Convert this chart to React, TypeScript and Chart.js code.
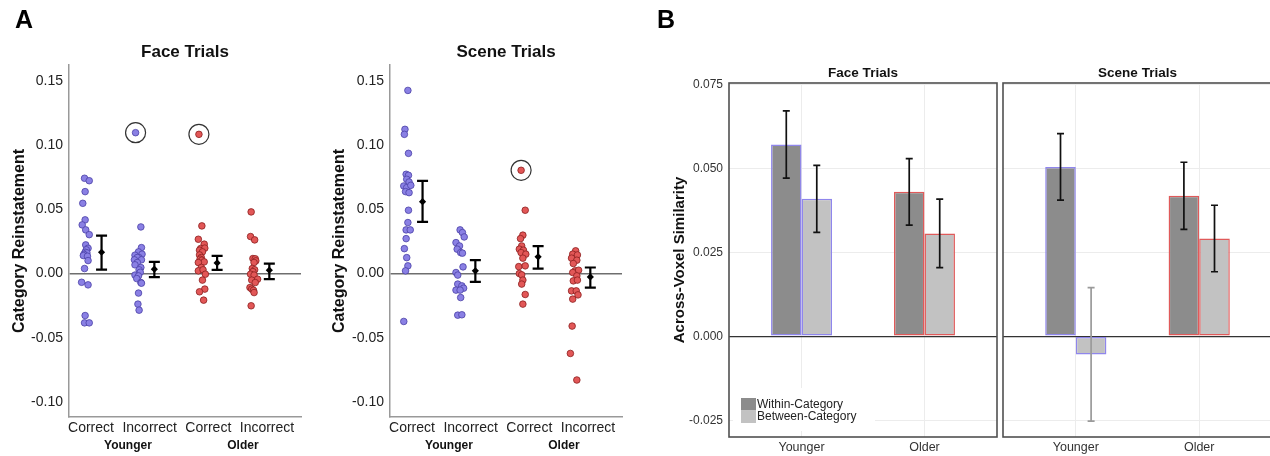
import { useEffect, useRef } from 'react';
import { Chart, registerables } from 'chart.js';

Chart.register(...registerables);

const FONT = "'Liberation Sans', Arial, Helvetica, sans-serif";

type Pt = [number, number];

// ---------- Panel A (category reinstatement, individual subjects) ----------
const aTickValues = [-0.1, -0.05, 0, 0.05, 0.1, 0.15];
const aConditionLabels = ['Correct', 'Incorrect', 'Correct', 'Incorrect'];
const aAgeLabels = ['Younger', 'Older'];
const aAgeLabelPos = [0.63, 2.59];
const aSummaryX = [0.18, 1.08, 2.15, 3.04];

const faceYoungerCorrect: Pt[] = [
  [-0.11, 0.0742], [-0.03, 0.0723], [-0.1, 0.0638], [-0.14, 0.0547], [-0.1, 0.0418], [-0.15, 0.0379],
  [-0.09, 0.034], [-0.03, 0.0303], [-0.09, 0.0223], [-0.05, 0.0197], [-0.08, 0.0185], [-0.1, 0.0166],
  [-0.07, 0.0161], [-0.12, 0.015], [-0.13, 0.014], [-0.06, 0.0135], [-0.05, 0.0101], [-0.11, 0.0039],
  [-0.16, -0.0068], [-0.05, -0.0088], [-0.1, -0.0327], [-0.11, -0.0384], [-0.03, -0.0384],
];
const faceYoungerIncorrect: Pt[] = [
  [0.76, 0.1097], [0.85, 0.0363], [0.86, 0.0202], [0.81, 0.0169], [0.87, 0.0151], [0.75, 0.0143],
  [0.82, 0.0124], [0.79, 0.0125], [0.74, 0.0107], [0.86, 0.0107], [0.79, 0.0086], [0.75, 0.0068],
  [0.85, 0.0047], [0.82, 0.0029], [0.84, 0.001], [0.75, -0.0012], [0.81, -0.0018], [0.78, -0.0039],
  [0.85, -0.007], [0.86, -0.0075], [0.81, -0.0152], [0.8, -0.0238], [0.82, -0.0285],
];
const faceOlderCorrect: Pt[] = [
  [1.84, 0.1084], [1.89, 0.0371], [1.83, 0.0267], [1.93, 0.0229], [1.87, 0.0195], [1.94, 0.0198],
  [1.85, 0.0182], [1.9, 0.0169], [1.85, 0.0145], [1.88, 0.0125], [1.86, 0.0112], [1.89, 0.0104],
  [1.93, 0.0091], [1.83, 0.0086], [1.88, 0.0047], [1.83, 0.0021], [1.91, 0.0029], [1.95, -0.0005],
  [1.9, -0.0051], [1.94, -0.0121], [1.85, -0.0142], [1.92, -0.0207],
];
const faceOlderIncorrect: Pt[] = [
  [2.73, 0.048], [2.72, 0.0288], [2.79, 0.0262], [2.76, 0.0117], [2.8, 0.0115], [2.81, 0.0099],
  [2.78, 0.0086], [2.75, 0.0039], [2.79, 0.0029], [2.76, 0.0015], [2.72, -0.0005], [2.78, -0.0012],
  [2.84, -0.0044], [2.74, -0.0051], [2.8, -0.007], [2.71, -0.0109], [2.74, -0.0121], [2.77, -0.013],
  [2.78, -0.0148], [2.73, -0.0251],
];
const faceOutliers: Pt[] = [[0.76, 0.1097], [1.84, 0.1084]];
const faceMeans = [0.0166, 0.0034, 0.0083, 0.0026];
const faceErrLow = [0.0031, -0.0028, 0.0029, -0.0044];
const faceErrHigh = [0.0296, 0.0091, 0.0138, 0.0078];

const sceneYoungerCorrect: Pt[] = [
  [-0.07, 0.1426], [-0.12, 0.1123], [-0.13, 0.1084], [-0.06, 0.0936], [-0.1, 0.0773], [-0.06, 0.0765],
  [-0.09, 0.0734], [-0.05, 0.0713], [-0.14, 0.0682], [-0.09, 0.0669], [-0.02, 0.0687], [-0.11, 0.0638],
  [-0.05, 0.063], [-0.06, 0.0493], [-0.07, 0.0397], [-0.1, 0.034], [-0.03, 0.034], [-0.1, 0.0272],
  [-0.13, 0.0194], [-0.09, 0.0124], [-0.07, 0.006], [-0.11, 0.0021], [-0.14, -0.0373],
];
const sceneYoungerIncorrect: Pt[] = [
  [0.82, 0.034], [0.86, 0.0319], [0.89, 0.0285], [0.75, 0.0241], [0.81, 0.0215], [0.77, 0.019],
  [0.83, 0.0163], [0.86, 0.0159], [0.87, 0.0052], [0.75, 0.0008], [0.78, -0.0012], [0.78, -0.0082],
  [0.85, -0.0096], [0.88, -0.0114], [0.75, -0.0129], [0.82, -0.0129], [0.83, -0.0187], [0.78, -0.0324],
  [0.85, -0.0321],
];
const sceneOlderCorrect: Pt[] = [
  [1.86, 0.0804], [1.93, 0.0493], [1.89, 0.0299], [1.85, 0.0272], [1.87, 0.0215], [1.83, 0.019],
  [1.9, 0.0182], [1.86, 0.0163], [1.94, 0.0151], [1.89, 0.012], [1.82, 0.0054], [1.93, 0.006],
  [1.83, 0], [1.87, -0.001], [1.89, -0.0051], [1.87, -0.0082], [1.93, -0.0163], [1.89, -0.0238],
];
const sceneOlderIncorrect: Pt[] = [
  [2.79, 0.0177], [2.74, 0.0151], [2.82, 0.0145], [2.72, 0.012], [2.81, 0.0104], [2.75, 0.0078],
  [2.78, 0.0021], [2.84, 0.0026], [2.74, 0.0008], [2.81, -0.0018], [2.75, -0.0057], [2.82, -0.0051],
  [2.72, -0.0135], [2.8, -0.0135], [2.83, -0.0166], [2.74, -0.0199], [2.73, -0.0409], [2.7, -0.0622],
  [2.81, -0.0829],
];
const sceneOutliers: Pt[] = [[1.86, 0.0804]];
const sceneMeans = [0.056, 0.0021, 0.013, -0.0026];
const sceneErrLow = [0.0402, -0.0065, 0.0039, -0.0109];
const sceneErrHigh = [0.0721, 0.0104, 0.0213, 0.0047];

// ---------- Panel B (across-voxel similarity) ----------
const bGroups = ['Younger', 'Older'];
const bTicks = [-0.025, 0, 0.025, 0.05, 0.075];
const bSeriesLabels = ['Within-Category', 'Between-Category'];
const faceWithin = [0.0571, 0.043];
const faceWithinErr = [0.01, 0.0099];
const faceBetween = [0.0409, 0.0306];
const faceBetweenErr = [0.01, 0.0102];
const sceneWithin = [0.0504, 0.0418];
const sceneWithinErr = [0.0099, 0.01];
const sceneBetween = [-0.0054, 0.0291];
const sceneBetweenErr = [0.0199, 0.0099];

const BLUE_FILL = '#8a80e4';
const BLUE_EDGE = '#4a40a6';
const RED_FILL = '#e25757';
const RED_EDGE = '#8c1f1f';
const GROUP_BORDERS = ['#8f86ec', '#e05a5a'];

const toXY = (pts: Pt[]) => pts.map(([x, y]) => ({ x, y }));

function buildPanelA(opts: {
  title: string;
  groups: Pt[][];
  outliers: Pt[];
  means: number[];
  lo: number[];
  hi: number[];
  yWidth: number;
  rightPad: number;
}): any {
  const fills = [BLUE_FILL, BLUE_FILL, RED_FILL, RED_FILL];
  const edges = [BLUE_EDGE, BLUE_EDGE, RED_EDGE, RED_EDGE];
  const datasets: any[] = opts.groups.map((g, i) => ({
    data: toXY(g),
    backgroundColor: fills[i],
    borderColor: edges[i],
    borderWidth: 0.8,
    pointRadius: 3.3,
    order: 3,
  }));
  datasets.push({
    data: opts.means.map((m, i) => ({ x: aSummaryX[i], y: m })),
    pointStyle: 'rectRot',
    pointRadius: 3.6,
    backgroundColor: '#000',
    borderColor: '#000',
    borderWidth: 0,
    order: 1,
  });
  datasets.push({
    data: toXY(opts.outliers),
    pointRadius: 10,
    backgroundColor: 'rgba(0,0,0,0)',
    borderColor: '#333',
    borderWidth: 1.2,
    order: 2,
  });

  const errPlugin = {
    id: 'errA',
    afterDatasetsDraw(chart: any) {
      const { ctx, scales } = chart;
      ctx.save();
      ctx.strokeStyle = '#000';
      ctx.lineWidth = 2.2;
      opts.means.forEach((_m, i) => {
        const px = scales.x.getPixelForValue(aSummaryX[i]);
        const yt = scales.y.getPixelForValue(opts.hi[i]);
        const yb = scales.y.getPixelForValue(opts.lo[i]);
        ctx.beginPath();
        ctx.moveTo(px, yt);
        ctx.lineTo(px, yb);
        ctx.moveTo(px - 5.5, yt);
        ctx.lineTo(px + 5.5, yt);
        ctx.moveTo(px - 5.5, yb);
        ctx.lineTo(px + 5.5, yb);
        ctx.stroke();
      });
      ctx.restore();
    },
  };
  const textPlugin = {
    id: 'textA',
    afterDraw(chart: any) {
      const { ctx, chartArea, scales } = chart;
      ctx.save();
      ctx.fillStyle = '#111';
      ctx.textAlign = 'center';
      ctx.textBaseline = 'middle';
      ctx.font = `bold 17px ${FONT}`;
      ctx.fillText(opts.title, (chartArea.left + chartArea.right) / 2, 52);
      ctx.font = `bold 12px ${FONT}`;
      aAgeLabels.forEach((t, i) => ctx.fillText(t, scales.x.getPixelForValue(aAgeLabelPos[i]), 446));
      ctx.restore();
    },
  };

  return {
    type: 'scatter',
    data: { datasets },
    plugins: [errPlugin, textPlugin],
    options: {
      animation: false,
      responsive: false,
      events: [],
      layout: { padding: { left: 0, right: opts.rightPad, top: 65, bottom: 0 } },
      plugins: { legend: { display: false }, tooltip: { enabled: false }, title: { display: false } },
      scales: {
        x: {
          type: 'linear',
          min: -0.375,
          max: 3.58,
          afterBuildTicks: (s: any) => {
            s.ticks = aConditionLabels.map((_l, i) => ({ value: i }));
          },
          afterFit: (s: any) => {
            s.height = 39;
          },
          ticks: {
            callback: (_v: any, i: number) => aConditionLabels[i],
            font: { family: FONT, size: 14 },
            color: '#222',
            padding: 3,
            maxRotation: 0,
            autoSkip: false,
          },
          grid: { display: false, drawTicks: false },
          border: { color: '#999', width: 1.5 },
        },
        y: {
          min: -0.1117,
          max: 0.1624,
          afterBuildTicks: (s: any) => {
            s.ticks = aTickValues.map((v) => ({ value: v }));
          },
          afterFit: (s: any) => {
            s.width = opts.yWidth;
          },
          ticks: {
            callback: (v: any) => Number(v).toFixed(2),
            font: { family: FONT, size: 14 },
            color: '#222',
            padding: 6,
          },
          grid: {
            drawTicks: false,
            lineWidth: 1.5,
            color: (c: any) => (c.tick && c.tick.value === 0 ? '#6e6e6e' : 'rgba(0,0,0,0)'),
          },
          border: { color: '#999', width: 1.5 },
          title: {
            display: true,
            text: 'Category Reinstatement',
            font: { family: FONT, size: 16, weight: 'bold' },
            color: '#111',
            padding: { top: 10, bottom: 0 },
          },
        },
      },
    },
  };
}

function buildPanelB(opts: {
  title: string;
  within: number[];
  withinErr: number[];
  between: number[];
  betweenErr: number[];
  showAxis: boolean;
  showLegend: boolean;
  leftPad: number;
  rightPad: number;
  yWidth: number;
}): any {
  const datasets = [
    {
      label: bSeriesLabels[0],
      data: opts.within.map((v, i) => ({ x: i, y: v })),
      backgroundColor: '#8c8c8c',
      borderColor: GROUP_BORDERS,
      borderWidth: 1.5,
      borderSkipped: false,
    },
    {
      label: bSeriesLabels[1],
      data: opts.between.map((v, i) => ({ x: i, y: v })),
      backgroundColor: '#c2c2c2',
      borderColor: GROUP_BORDERS,
      borderWidth: 1.5,
      borderSkipped: false,
    },
  ];
  const errs = [opts.withinErr, opts.betweenErr];
  const vals = [opts.within, opts.between];

  const errPlugin = {
    id: 'errB',
    afterDatasetsDraw(chart: any) {
      const { ctx, scales } = chart;
      ctx.save();
      ctx.lineWidth = 1.7;
      for (let d = 0; d < 2; d++) {
        const meta = chart.getDatasetMeta(d);
        meta.data.forEach((bar: any, i: number) => {
          const v = vals[d][i];
          const e = errs[d][i];
          const yt = scales.y.getPixelForValue(v + e);
          const yb = scales.y.getPixelForValue(v - e);
          ctx.strokeStyle = v < 0 ? '#9a9a9a' : '#111';
          ctx.beginPath();
          ctx.moveTo(bar.x, yt);
          ctx.lineTo(bar.x, yb);
          ctx.moveTo(bar.x - 3.5, yt);
          ctx.lineTo(bar.x + 3.5, yt);
          ctx.moveTo(bar.x - 3.5, yb);
          ctx.lineTo(bar.x + 3.5, yb);
          ctx.stroke();
        });
      }
      ctx.restore();
    },
  };
  const framePlugin = {
    id: 'frameB',
    afterDraw(chart: any) {
      const { ctx, chartArea } = chart;
      const { left, right, top, bottom } = chartArea;
      ctx.save();
      if (opts.showLegend) {
        ctx.fillStyle = '#fff';
        ctx.fillRect(left + 4, bottom - 49, 142, 43);
        chart.data.datasets.forEach((ds: any, i: number) => {
          const y0 = bottom - 39 + i * 12.5;
          ctx.fillStyle = ds.backgroundColor;
          ctx.fillRect(left + 12, y0, 15, 12.5);
          ctx.fillStyle = '#222';
          ctx.font = `12px ${FONT}`;
          ctx.textAlign = 'left';
          ctx.textBaseline = 'middle';
          ctx.fillText(ds.label, left + 28, y0 + 6.5);
        });
      }
      ctx.strokeStyle = '#505050';
      ctx.lineWidth = 1.6;
      ctx.strokeRect(left, top, right - left, bottom - top);
      ctx.fillStyle = '#111';
      ctx.font = `bold 13.5px ${FONT}`;
      ctx.textAlign = 'center';
      ctx.textBaseline = 'middle';
      ctx.fillText(opts.title, (left + right) / 2, 73);
      ctx.restore();
    },
  };

  return {
    type: 'bar',
    data: { datasets },
    plugins: [errPlugin, framePlugin],
    options: {
      animation: false,
      responsive: false,
      events: [],
      categoryPercentage: 0.496,
      barPercentage: 1,
      layout: { padding: { left: opts.leftPad, right: opts.rightPad, top: 83, bottom: 0 } },
      plugins: { legend: { display: false }, tooltip: { enabled: false }, title: { display: false } },
      scales: {
        x: {
          type: 'linear',
          min: -0.59,
          max: 1.59,
          offset: false,
          afterBuildTicks: (s: any) => {
            s.ticks = bGroups.map((_g, i) => ({ value: i }));
          },
          afterFit: (s: any) => {
            s.height = 19;
          },
          ticks: {
            callback: (_v: any, i: number) => bGroups[i],
            font: { family: FONT, size: 12.5 },
            color: '#333',
            padding: 3,
            maxRotation: 0,
            autoSkip: false,
          },
          grid: { offset: false, drawTicks: false, color: '#ececec', lineWidth: 1 },
          border: { display: false },
        },
        y: {
          min: -0.03,
          max: 0.0754,
          afterBuildTicks: (s: any) => {
            s.ticks = bTicks.map((v) => ({ value: v }));
          },
          afterFit: (s: any) => {
            s.width = opts.yWidth;
          },
          ticks: {
            display: opts.showAxis,
            callback: (v: any) => Number(v).toFixed(3),
            font: { family: FONT, size: 12 },
            color: '#333',
            padding: 6,
          },
          grid: {
            drawTicks: false,
            color: (c: any) => (c.tick && c.tick.value === 0 ? '#333' : '#ececec'),
            lineWidth: (c: any) => (c.tick && c.tick.value === 0 ? 1.3 : 1),
          },
          border: { display: false },
          title: {
            display: opts.showAxis,
            text: 'Across-Voxel Similarity',
            font: { family: FONT, size: 15, weight: 'bold' },
            color: '#111',
            padding: { top: 31, bottom: 0 },
          },
        },
      },
    },
  };
}

export default function App() {
  const aFaceRef = useRef<HTMLCanvasElement>(null);
  const aSceneRef = useRef<HTMLCanvasElement>(null);
  const bFaceRef = useRef<HTMLCanvasElement>(null);
  const bSceneRef = useRef<HTMLCanvasElement>(null);

  useEffect(() => {
    const charts: Chart[] = [];
    charts.push(
      new Chart(
        aFaceRef.current!,
        buildPanelA({
          title: 'Face Trials',
          groups: [faceYoungerCorrect, faceYoungerIncorrect, faceOlderCorrect, faceOlderIncorrect],
          outliers: faceOutliers,
          means: faceMeans,
          lo: faceErrLow,
          hi: faceErrHigh,
          yWidth: 69,
          rightPad: 19,
        })
      )
    );
    charts.push(
      new Chart(
        aSceneRef.current!,
        buildPanelA({
          title: 'Scene Trials',
          groups: [sceneYoungerCorrect, sceneYoungerIncorrect, sceneOlderCorrect, sceneOlderIncorrect],
          outliers: sceneOutliers,
          means: sceneMeans,
          lo: sceneErrLow,
          hi: sceneErrHigh,
          yWidth: 70,
          rightPad: 18,
        })
      )
    );
    charts.push(
      new Chart(
        bFaceRef.current!,
        buildPanelB({
          title: 'Face Trials',
          within: faceWithin,
          withinErr: faceWithinErr,
          between: faceBetween,
          betweenErr: faceBetweenErr,
          showAxis: true,
          showLegend: true,
          leftPad: 0,
          rightPad: 3,
          yWidth: 89,
        })
      )
    );
    charts.push(
      new Chart(
        bSceneRef.current!,
        buildPanelB({
          title: 'Scene Trials',
          within: sceneWithin,
          withinErr: sceneWithinErr,
          between: sceneBetween,
          betweenErr: sceneBetweenErr,
          showAxis: false,
          showLegend: false,
          leftPad: 3,
          rightPad: 8,
          yWidth: 0,
        })
      )
    );
    return () => charts.forEach((c) => c.destroy());
  }, []);

  const abs = (left: number, width: number): any => ({
    position: 'absolute',
    left,
    top: 0,
    width,
    height: 456,
  });

  return (
    <div
      style={{
        position: 'fixed',
        left: 0,
        top: 0,
        width: 1270,
        height: 456,
        overflow: 'hidden',
        background: '#fff',
      }}
    >
      <canvas ref={aFaceRef} width={320} height={456} style={abs(0, 320)} />
      <canvas ref={aSceneRef} width={320} height={456} style={abs(320, 320)} />
      <canvas ref={bFaceRef} width={360} height={456} style={abs(640, 360)} />
      <canvas ref={bSceneRef} width={280} height={456} style={abs(1000, 280)} />
      <div
        style={{
          position: 'absolute',
          left: 15,
          top: 7,
          font: `bold 25px ${FONT}`,
          lineHeight: '25px',
          color: '#000',
        }}
      >
        A
      </div>
      <div
        style={{
          position: 'absolute',
          left: 657,
          top: 7,
          font: `bold 25px ${FONT}`,
          lineHeight: '25px',
          color: '#000',
        }}
      >
        B
      </div>
    </div>
  );
}
